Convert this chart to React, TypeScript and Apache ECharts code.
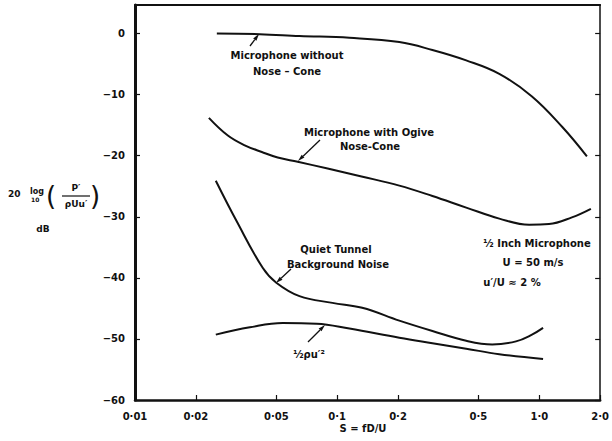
import React, { useEffect, useRef } from "react";
import * as echarts from "echarts";

// x-axis ticks (S = fD/U, log scale)
const X_TICKS = [0.01, 0.02, 0.05, 0.1, 0.2, 0.5, 1.0, 2.0];
const X_TICK_LABELS = ["0·01", "0·02", "0·05", "0·1", "0·2", "0·5", "1·0", "2·0"];
const Y_TICKS = [-60, -50, -40, -30, -20, -10, 0];
const Y_TICK_LABELS = ["−60", "−50", "−40", "−30", "−20", "−10", "0"];

// Microphone without nose-cone
const S_NOSE = [0.0254, 0.0414, 0.0651, 0.115, 0.203, 0.296, 0.435, 0.634, 0.92, 1.3, 1.72];
const DB_NOSE = [0, -0.1, -0.4, -0.7, -1.4, -2.7, -4.4, -6.6, -10.3, -15.3, -20.1];

// Microphone with ogive nose-cone
const S_OGIVE = [0.0232, 0.0288, 0.0349, 0.0424, 0.0508, 0.0638, 0.0897, 0.132, 0.203, 0.296, 0.435, 0.634, 0.891, 1.117, 1.45, 1.8];
const DB_OGIVE = [-13.8, -16.7, -18.3, -19.4, -20.3, -21.0, -22.1, -23.4, -24.9, -26.6, -28.5, -30.3, -31.3, -31.2, -30.1, -28.7];

// Quiet tunnel background noise
const S_QUIET = [0.0251, 0.0318, 0.0429, 0.05, 0.0651, 0.0948, 0.133, 0.203, 0.296, 0.435, 0.585, 0.767, 0.92, 1.044];
const DB_QUIET = [-24.1, -30.7, -38.4, -40.8, -43.0, -44.1, -44.9, -47.0, -48.7, -50.3, -50.9, -50.4, -49.3, -48.2];

// 1/2 rho u'^2
const S_HALF = [0.0251, 0.037, 0.0538, 0.0791, 0.115, 0.203, 0.296, 0.435, 0.634, 1.044];
const DB_HALF = [-49.3, -48.1, -47.4, -47.5, -48.3, -49.8, -50.7, -51.6, -52.5, -53.3];

const FONT = "DejaVu Sans";
const INK = "#111";

function arrow(x1: number, y1: number, x2: number, y2: number) {
  const dx = x2 - x1, dy = y2 - y1;
  const L = Math.hypot(dx, dy);
  const ux = dx / L, uy = dy / L;
  const px = -uy, py = ux;
  const h = 7, w = 2;
  const bx = x2 - ux * h, by = y2 - uy * h;
  return [
    { type: "line", shape: { x1, y1, x2: bx, y2: by }, style: { stroke: INK, lineWidth: 1.3 } },
    {
      type: "polygon",
      shape: { points: [[x2, y2], [bx + px * w, by + py * w], [bx - px * w, by - py * w]] },
      style: { fill: INK },
    },
  ];
}

function txt(x: number, y: number, text: string, size = 10, align = "center", weight: any = "bold") {
  return {
    type: "text",
    x,
    y,
    style: {
      text,
      fill: INK,
      font: `${weight} ${size}px "${FONT}"`,
      textAlign: align,
      textVerticalAlign: "middle",
    },
  };
}

const toPts = (s: number[], d: number[]) => s.map((v, i) => [Math.log10(v), d[i]]);

export default function App() {
  const ref = useRef<HTMLDivElement>(null);
  useEffect(() => {
    if (!ref.current) return;
    const chart = echarts.init(ref.current, null, { renderer: "svg" });
    const xTickVals = X_TICKS.map((v) => Math.log10(v));
    const labelFor = (v: number) => {
      let best = 0;
      xTickVals.forEach((t, i) => {
        if (Math.abs(t - v) < Math.abs(xTickVals[best] - v)) best = i;
      });
      return X_TICK_LABELS[best];
    };
    const lineSeries = (name: string, s: number[], d: number[]) => ({
      name,
      type: "line",
      data: toPts(s, d),
      smooth: 0.4,
      showSymbol: false,
      symbol: "none",
      lineStyle: { color: INK, width: 2 },
      xAxisIndex: 0,
      yAxisIndex: 0,
    });
    const axisLabelStyle = { color: INK, fontFamily: FONT, fontWeight: "bold", fontSize: 10 };
    chart.setOption({
      animation: false,
      backgroundColor: "#fff",
      grid: { left: 135, right: 9, top: 5, bottom: 41 },
      xAxis: [
        {
          type: "value",
          min: -2,
          max: Math.log10(2),
          position: "bottom",
          splitLine: { show: false },
          axisLine: { show: true, onZero: false, lineStyle: { color: INK, width: 2.5 } },
          axisTick: { show: true, inside: true, length: 5, customValues: xTickVals, lineStyle: { color: INK, width: 1.2 } },
          axisLabel: {
            ...axisLabelStyle,
            margin: 11,
            customValues: xTickVals,
            formatter: (v: number) => labelFor(v),
          },
        },
        {
          type: "value",
          min: -2,
          max: Math.log10(2),
          position: "top",
          splitLine: { show: false },
          axisLine: { show: true, onZero: false, lineStyle: { color: INK, width: 2 } },
          axisTick: { show: false },
          axisLabel: { show: false },
        },
      ],
      yAxis: [
        {
          type: "value",
          min: -60,
          max: 4.67,
          position: "left",
          splitLine: { show: false },
          axisLine: { show: true, onZero: false, lineStyle: { color: INK, width: 3 } },
          axisTick: { show: true, inside: true, length: 5, customValues: Y_TICKS, lineStyle: { color: INK, width: 1.2 } },
          axisLabel: {
            ...axisLabelStyle,
            margin: 10,
            customValues: Y_TICKS,
            formatter: (v: number) => {
              const i = Y_TICKS.indexOf(Math.round(v));
              return i >= 0 ? Y_TICK_LABELS[i] : "";
            },
          },
        },
        {
          type: "value",
          min: -60,
          max: 4.67,
          position: "right",
          splitLine: { show: false },
          axisLine: { show: true, onZero: false, lineStyle: { color: INK, width: 1.5 } },
          axisTick: { show: true, inside: true, length: 5, customValues: Y_TICKS, lineStyle: { color: INK, width: 1.2 } },
          axisLabel: { show: false },
        },
      ],
      series: [
        lineSeries("Microphone without Nose-Cone", S_NOSE, DB_NOSE),
        lineSeries("Microphone with Ogive Nose-Cone", S_OGIVE, DB_OGIVE),
        lineSeries("Quiet Tunnel Background Noise", S_QUIET, DB_QUIET),
        lineSeries("½ρu′²", S_HALF, DB_HALF),
      ],
      graphic: [
        // y-axis title
        txt(8, 194, "20", 9, "left"),
        txt(30, 191, "log", 8, "left"),
        txt(31, 199, "10", 6, "left"),
        txt(46, 196, "(", 26, "left", "normal"),
        txt(76, 188, "P′", 9),
        { type: "line", shape: { x1: 62, y1: 196, x2: 90, y2: 196 }, style: { stroke: INK, lineWidth: 1.2 } },
        txt(76, 204, "ρUu′", 9),
        txt(90, 196, ")", 26, "left", "normal"),
        txt(43, 229, "dB", 9),
        // x-axis title
        txt(363, 428, "S = fD/U", 10),
        // curve labels
        txt(287, 55, "Microphone without", 10),
        txt(287, 71, "Nose – Cone", 10),
        ...arrow(250, 46, 259, 34),
        txt(369, 132, "Microphone with Ogive", 10),
        txt(370, 146, "Nose-Cone", 10),
        ...arrow(320, 140, 298, 161),
        txt(336, 249, "Quiet Tunnel", 10),
        txt(338, 264, "Background Noise", 10),
        ...arrow(291, 269, 276, 283),
        txt(309, 354, "½ρu′²", 10),
        ...arrow(308, 342, 325, 325),
        // conditions
        txt(537, 243, "½ Inch Microphone", 10),
        txt(533, 262, "U = 50 m/s", 10),
        txt(512, 282, "u′/U ≈ 2 %", 10),
      ],
    });
    return () => chart.dispose();
  }, []);
  return <div ref={ref} style={{ position: "fixed", left: 0, top: 0, width: 612, height: 441 }} />;
}
